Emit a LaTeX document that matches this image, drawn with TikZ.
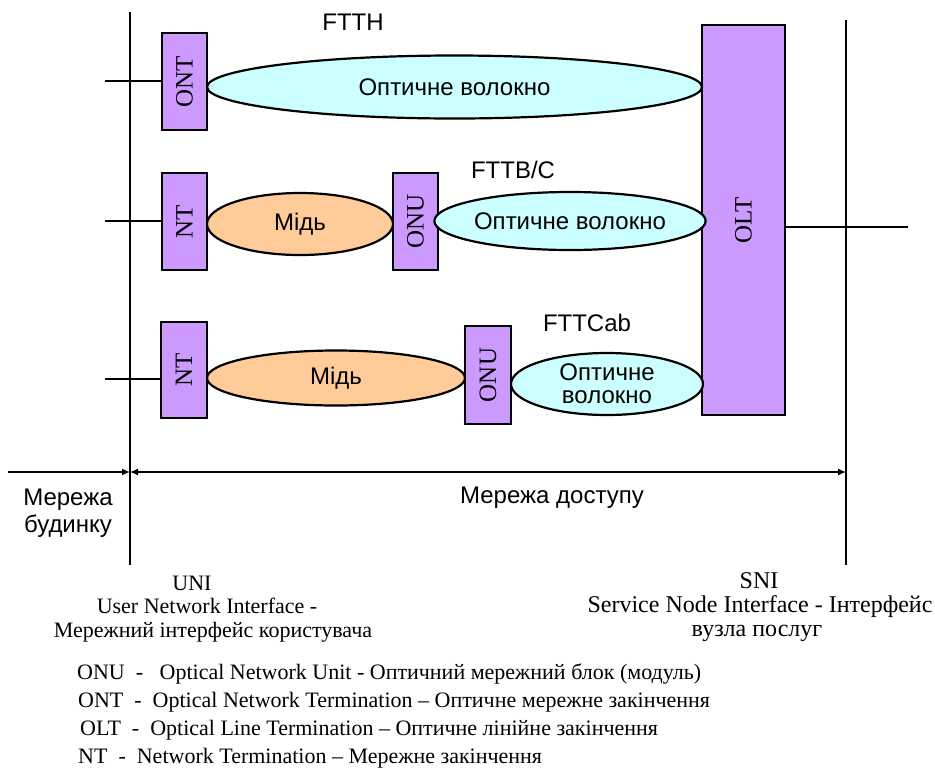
\documentclass[tikz,border=0pt]{standalone}
\usepackage{fontspec}
\setmainfont{Liberation Serif}
\newfontfamily\arialfont{Liberation Sans}
\usetikzlibrary{shapes.geometric,arrows.meta}
\definecolor{boxpurple}{HTML}{CC99FF}
\definecolor{fibre}{HTML}{CCFFFF}
\definecolor{copper}{HTML}{FFCC99}
\begin{document}
\begin{tikzpicture}[x=1pt,y=-1pt,
  unit/.style={draw=black,line width=2pt,fill=boxpurple,rectangle,inner sep=0pt},
  unitlabel/.style={rotate=90,inner sep=0pt,font=\fontsize{25}{28}\selectfont},
  link/.style={ellipse,draw=black,line width=2.2pt,inner sep=0pt,align=center,
    font=\arialfont\fontsize{24}{24}\selectfont},
  fibrelink/.style={link,fill=fibre},
  copperlink/.style={link,fill=copper},
  wire/.style={line width=2pt},
  tag/.style={font=\arialfont\fontsize{24}{27}\selectfont,inner sep=0pt},
  note/.style={font=\fontsize{24}{27}\selectfont,inner sep=0pt,anchor=base},
  uninote/.style={note,font=\fontsize{22}{24}\selectfont},
  legend/.style={anchor=base west,inner sep=0pt,font=\fontsize{22}{24}\selectfont},
  span/.style={line width=1.4pt,{Latex[length=8pt,width=7pt]}-{Latex[length=8pt,width=7pt]}}
]
\useasboundingbox (0,0) rectangle (935,772);

% interface boundaries
\coordinate (uniT) at (130,12);
\coordinate (uniB) at (130,565);
\coordinate (sniT) at (846,20);
\coordinate (sniB) at (846,565);
\draw[wire,line width=2.4pt] (uniT) -- (uniB);
\draw[wire] (sniT) -- (sniB);

% OLT at the exchange
\node[unit,minimum width=83,minimum height=390] (olt) at (743.5,220) {};
\node[unitlabel] at (olt) {OLT};
\coordinate (oltOut) at (908,227);
\draw[wire] (olt.east |- oltOut) -- (oltOut);

% FTTH
\node[unit,minimum width=45,minimum height=97] (ont) at (184.5,81.5) {};
\node[unitlabel] at (ont) {ONT};
\coordinate (in1) at (105,81);
\draw[wire] (in1) -- (ont.west |- in1);
\node[fibrelink,minimum width=495,minimum height=63] (f1) at (454.5,87) {Оптичне волокно};
\node[tag] (ftth) at (353,22) {FTTH};

% FTTB/C
\node[unit,minimum width=45,minimum height=97] (nt2) at (184.5,221.5) {};
\node[unitlabel] at (nt2) {NT};
\coordinate (in2) at (105,221);
\draw[wire] (in2) -- (nt2.west |- in2);
\node[copperlink,minimum width=186,minimum height=62] (c2) at (300,224) {Мідь};
\node[unit,minimum width=45,minimum height=97] (onu2) at (415.5,221.5) {};
\node[unitlabel] at (onu2) {ONU};
\node[fibrelink,minimum width=264,minimum height=58] (f2) at (570,221) {Оптичне волокно};
\node[tag] (fttb) at (513,170) {FTTB/C};

% FTTCab
\node[unit,minimum width=46,minimum height=96] (nt3) at (184,370) {};
\node[unitlabel] at (nt3) {NT};
\coordinate (in3) at (105,379);
\draw[wire] (in3) -- (nt3.west |- in3);
\node[copperlink,minimum width=258,minimum height=55] (c3) at (336,378) {Мідь};
\node[unit,minimum width=46,minimum height=98] (onu3) at (488,375) {};
\node[unitlabel] at (onu3) {ONU};
\node[fibrelink,minimum width=192,minimum height=62] (f3) at (607,384) {Оптичне\\[-1pt]волокно};
\node[tag] (fttcab) at (587,323) {FTTCab};

% network spans
\coordinate (homeL) at (8,472);
\coordinate (spanL) at (130,472);
\coordinate (spanR) at (846,472);
\draw[line width=1.4pt,-{Latex[length=8pt,width=7pt]}] (homeL) -- (spanL);
\draw[span] (spanL) -- (spanR);
\node[tag,align=center] (home) at (68,513) {Мережа\\будинку};
\node[tag] (access) at (552,498) {Мережа доступу};

% interface captions
\node[uninote] (uni) at (192,590) {UNI};
\node[uninote] (uni2) at (207,613) {User Network Interface -};
\node[uninote] (uni3) at (213,637) {Мережний інтерфейс користувача};
\node[note] (sni) at (759,588) {SNI};
\node[note] (sni2) at (760,612) {Service Node Interface - Інтерфейс};
\node[note] (sni3) at (757,636) {вузла послуг};

% abbreviations
\node[legend] (lg1) at (77,679) {ONU\ \ -\ \ \ Optical Network Unit - Оптичний мережний блок (модуль)};
\node[legend] (lg2) at (78,707) {ONT\ \ -\ \ Optical Network Termination – Оптичне мережне закінчення};
\node[legend] (lg3) at (80,735) {OLT\ \ -\ \ Optical Line Termination – Оптичне лінійне закінчення};
\node[legend] (lg4) at (78,763) {NT\ \ -\ \ Network Termination – Мережне закінчення};
\end{tikzpicture}
\end{document}
